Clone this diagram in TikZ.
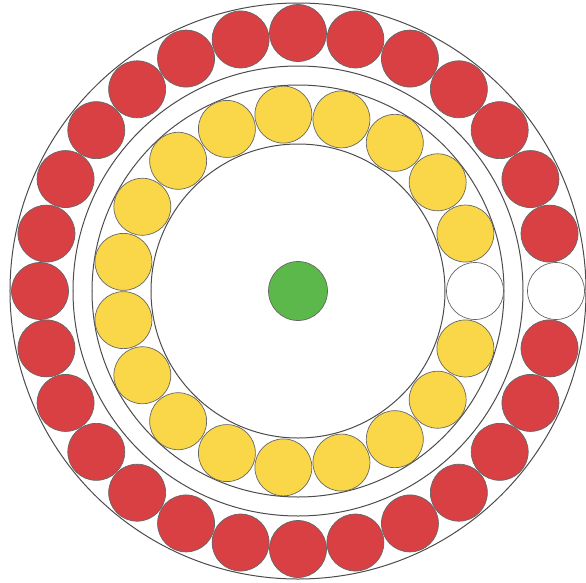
\documentclass[tikz,border=0pt]{standalone}
\usepackage{xcolor}
\usepackage{tikz}
\definecolor{ballred}{RGB}{216,64,68}
\definecolor{ballyellow}{RGB}{250,215,72}
\definecolor{ballgreen}{RGB}{92,184,74}
\def\outerR{288}
\def\redR{258}
\def\redInR{225}
\def\yelOutR{206}
\def\yelR{177}
\def\yelInR{147}
\def\ballSize{57}

\begin{document}
\begin{tikzpicture}[
    x=1pt, y=1pt,
    ring/.style={draw=black!70, line width=1pt},
    ball/.style={circle, draw=black!60, line width=0.7pt, minimum size=\ballSize pt, inner sep=0pt}
]
\useasboundingbox (-298,-291) rectangle (288,291);
% guide rings
\draw[ring] (0,0) circle[radius=\outerR];
\draw[ring] (0,0) circle[radius=\redInR];
\draw[ring] (0,0) circle[radius=\yelOutR];
\draw[ring] (0,0) circle[radius=\yelInR];

% outer ring: 28 balls, the one at 0 deg is empty
\node[ball, fill=white] (red0) at (0:\redR) {};
\foreach \i in {1,...,27}
    \node[ball, fill=ballred] (red\i) at ({\i*360/28}:\redR) {};

% inner ring: 19 balls
\node[ball, fill=white] (yel0) at (0:\yelR) {};
\foreach \i in {1,...,18}
    \node[ball, fill=ballyellow] (yel\i) at ({\i*360/19}:\yelR) {};

% centre
\node[ball, fill=ballgreen, minimum size=59pt] (hub) at (0,0) {};
\end{tikzpicture}
\end{document}
